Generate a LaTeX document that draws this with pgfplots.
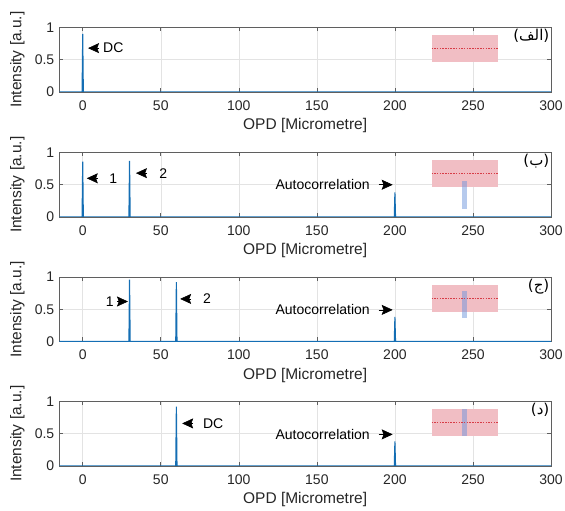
\documentclass[border=0pt]{standalone}
\usepackage{fontspec}
\setmainfont{Liberation Sans}
\newfontfamily\arabicfont[Script=Arabic]{DejaVu Sans}
\TeXXeTstate=1
\usepackage{pgfplots}
\pgfplotsset{compat=1.18}
\usetikzlibrary{arrows.meta}

\definecolor{mblue}{RGB}{20,110,180}
\definecolor{boxpink}{RGB}{241,190,196}
\definecolor{barblue}{RGB}{110,150,220}
\definecolor{dashred}{RGB}{215,60,70}
\definecolor{axgray}{RGB}{95,95,95}

\tikzset{
  spike/.style={mblue, line width=1.1pt},
  pinkbox/.style={fill=boxpink, draw=none},
  bluebar/.style={fill=barblue, fill opacity=0.5, draw=none},
  redline/.style={dashred, line width=0.6pt, dash pattern=on 1.5pt off 1.2pt},
  larrow/.style={-{Stealth[length=11pt,width=10pt,inset=1.8pt]}, black, line width=0.6pt},
  ann/.style={font=\fontsize{14}{16}\selectfont, inner sep=0pt, text=black},
  plabel/.style={anchor=north east, inner sep=1.5pt, font=\arabicfont\fontsize{15}{18}\selectfont},
}

\pgfplotsset{
  panel/.style={
    scale only axis,
    width=491.7pt, height=64.5pt,
    anchor=south west,
    xmin=-15, xmax=300, ymin=0, ymax=1,
    xtick={0,50,...,300}, ytick={0,0.5,1},
    grid=major,
    major grid style={draw=black!11, line width=0.5pt},
    axis line style={draw=axgray, line width=0.6pt},
    tick style={draw=axgray, line width=0.6pt},
    tick align=inside,
    major tick length=4pt,
    /pgf/number format/assume math mode=true,
    tick label style={font=\fontsize{14}{16}\selectfont, text=black!85},
    xticklabel style={yshift=-5pt},
    yticklabel style={xshift=-1.5pt},
    xlabel={OPD [Micrometre]},
    ylabel={Intensity [a.u.]},
    every axis x label/.style={at={(axis description cs:0.5,-0.52)}, anchor=center,
      font=\fontsize{15.5}{18}\selectfont, text=black!85},
    every axis y label/.style={at={(axis description cs:-0.0854,0.5)}, rotate=90, anchor=center,
      font=\fontsize{15.5}{18}\selectfont, text=black!85},
  },
}

\begin{document}
\begin{tikzpicture}
\useasboundingbox (0,0) rectangle (565pt,511pt);

% (الف)
\begin{axis}[panel, at={(59.3pt,419pt)}]
\addplot[pinkbox] coordinates {(223.5,0.46) (266,0.46) (266,0.89) (223.5,0.89)};
\addplot[redline] coordinates {(223.5,0.68) (266,0.68)};
\addplot[spike] coordinates {(-15,0) (-0.4,0) (0,0.9) (0.4,0) (300,0)};
\draw[larrow] ([xshift=11pt]axis cs:3.4,0.68) -- (axis cs:3.4,0.68);
\node[ann, anchor=west] at (axis cs:13,0.68) {DC};
\node[plabel] at (rel axis cs:1,1) {\beginR(الف)\endR};
\end{axis}

% (ب)
\begin{axis}[panel, at={(59.3pt,294pt)}]
\addplot[pinkbox] coordinates {(223.5,0.46) (266,0.46) (266,0.88) (223.5,0.88)};
\addplot[bluebar] coordinates {(243,0.12) (246,0.12) (246,0.56) (243,0.56)};
\addplot[redline] coordinates {(223.5,0.68) (266,0.68)};
\addplot[spike] coordinates {(-15,0) (-0.4,0) (0,0.86) (0.4,0) (29.6,0) (30,0.87) (30.4,0)
  (199.6,0) (200,0.38) (200.4,0) (300,0)};
\draw[larrow] ([xshift=11pt]axis cs:2.6,0.6) -- (axis cs:2.6,0.6);
\node[ann, anchor=west] at (axis cs:17,0.6) {1};
\draw[larrow] ([xshift=11pt]axis cs:34.1,0.68) -- (axis cs:34.1,0.68);
\node[ann, anchor=west] at (axis cs:49,0.68) {2};
\draw[larrow] ([xshift=-14pt]axis cs:198.6,0.5) -- (axis cs:198.6,0.5);
\node[ann, anchor=east] at (axis cs:184,0.5) {Autocorrelation};
\node[plabel] at (rel axis cs:1,1) {\beginR(ب)\endR};
\end{axis}

% (ج)
\begin{axis}[panel, at={(59.3pt,169.5pt)}]
\addplot[pinkbox] coordinates {(223.5,0.46) (266,0.46) (266,0.88) (223.5,0.88)};
\addplot[bluebar] coordinates {(243,0.36) (246,0.36) (246,0.79) (243,0.79)};
\addplot[redline] coordinates {(223.5,0.67) (266,0.67)};
\addplot[spike] coordinates {(-15,0) (29.6,0) (30,0.96) (30.4,0) (59.6,0) (60,0.92) (60.4,0)
  (199.6,0) (200,0.38) (200.4,0) (300,0)};
\draw[larrow] ([xshift=-11pt]axis cs:29,0.62) -- (axis cs:29,0.62);
\node[ann, anchor=east] at (axis cs:20,0.62) {1};
\draw[larrow] ([xshift=11pt]axis cs:62.4,0.66) -- (axis cs:62.4,0.66);
\node[ann, anchor=west] at (axis cs:77,0.66) {2};
\draw[larrow] ([xshift=-14pt]axis cs:198.6,0.49) -- (axis cs:198.6,0.49);
\node[ann, anchor=east] at (axis cs:184,0.49) {Autocorrelation};
\node[plabel] at (rel axis cs:1,1) {\beginR(ج)\endR};
\end{axis}

% (د)
\begin{axis}[panel, at={(59.3pt,45pt)}]
\addplot[pinkbox] coordinates {(223.5,0.46) (266,0.46) (266,0.88) (223.5,0.88)};
\addplot[bluebar] coordinates {(243,0.46) (246,0.46) (246,0.88) (243,0.88)};
\addplot[redline] coordinates {(223.5,0.67) (266,0.67)};
\addplot[spike] coordinates {(-15,0) (59.6,0) (60,0.92) (60.4,0)
  (199.6,0) (200,0.38) (200.4,0) (300,0)};
\draw[larrow] ([xshift=11pt]axis cs:63.7,0.66) -- (axis cs:63.7,0.66);
\node[ann, anchor=west] at (axis cs:77,0.66) {DC};
\draw[larrow] ([xshift=-14pt]axis cs:198.6,0.49) -- (axis cs:198.6,0.49);
\node[ann, anchor=east] at (axis cs:184,0.49) {Autocorrelation};
\node[plabel] at (rel axis cs:1,1) {\beginR(د)\endR};
\end{axis}
\end{tikzpicture}
\end{document}
